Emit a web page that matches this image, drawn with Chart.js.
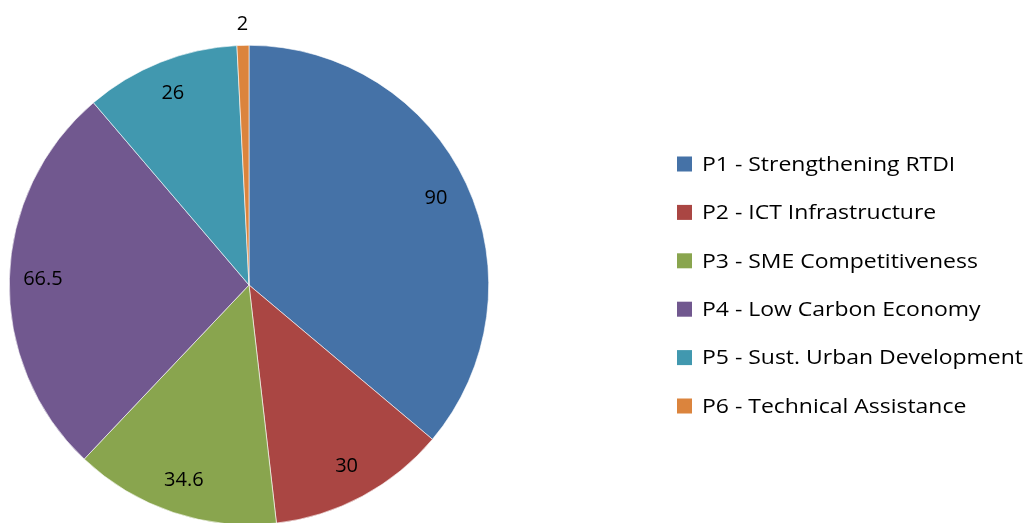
<!DOCTYPE html>
<html>
<head>
<meta charset="utf-8">
<script src="https://cdn.jsdelivr.net/npm/chart.js@4/dist/chart.umd.min.js"></script>
<style>
  html, body { margin: 0; padding: 0; background: #fff; overflow: hidden; }
  .wrap { position: relative; width: 1036px; height: 530px; }
</style>
</head>
<body>
<div class="wrap"><canvas id="pie-chart"></canvas></div>
<script>
const labels = [
  'P1 - Strengthening RTDI',
  'P2 - ICT Infrastructure',
  'P3 - SME Competitiveness',
  'P4 - Low Carbon Economy',
  'P5 - Sust. Urban Development',
  'P6 - Technical Assistance'
];
const values = [90, 30, 34.6, 66.5, 26, 2];
const valueLabels = ['90', '30', '34.6', '66.5', '26', '2'];
const colors = ['#4572A7', '#AA4643', '#89A54E', '#71588F', '#4198AF', '#DB843D'];

const FONT = '20px "Open Sans", Lato, sans-serif';

// value labels, placed inside the slice near the rim (small slices go outside)
const sliceLabels = {
  id: 'sliceLabels',
  afterDatasetsDraw(chart) {
    const ctx = chart.ctx;
    const arcs = chart.getDatasetMeta(0).data;
    ctx.save();
    ctx.font = FONT;
    ctx.fillStyle = '#000';
    ctx.textAlign = 'center';
    ctx.textBaseline = 'middle';
    arcs.forEach((arc, i) => {
      const mid = (arc.startAngle + arc.endAngle) / 2;
      const span = arc.endAngle - arc.startAngle;
      const r = span < 0.15 ? arc.outerRadius + 21 : arc.outerRadius * 0.86;
      ctx.fillText(valueLabels[i], arc.x + Math.cos(mid) * r, arc.y + Math.sin(mid) * r);
    });
    ctx.restore();
  }
};

// legend on the right, square markers
const sideLegend = {
  id: 'sideLegend',
  afterDraw(chart) {
    const ctx = chart.ctx;
    ctx.save();
    ctx.font = FONT;
    ctx.textBaseline = 'middle';
    // stretch text so the longest entry ends where the reference's does
    const longest = Math.max(...labels.map(l => ctx.measureText(l).width));
    const sx = 321 / longest;
    labels.forEach((lab, i) => {
      const y = 164 + i * 48.4;
      ctx.fillStyle = colors[i];
      ctx.fillRect(677, y - 7.5, 15, 15);
      ctx.fillStyle = '#000';
      ctx.save();
      ctx.translate(702, y + 1);
      ctx.scale(sx, 1);
      ctx.fillText(lab, 0, 0);
      ctx.restore();
    });
    ctx.restore();
  }
};

new Chart(document.getElementById('pie-chart').getContext('2d'), {
  type: 'pie',
  data: {
    labels: labels,
    datasets: [{
      data: values,
      backgroundColor: colors,
      borderColor: '#ffffff',
      borderWidth: 0.6
    }]
  },
  options: {
    responsive: true,
    maintainAspectRatio: false,
    animation: false,
    layout: { padding: { left: 9, top: 45, right: 547, bottom: 5 } },
    plugins: {
      legend: { display: false },
      tooltip: { enabled: false }
    }
  },
  plugins: [sliceLabels, sideLegend]
});
</script>
</body>
</html>
